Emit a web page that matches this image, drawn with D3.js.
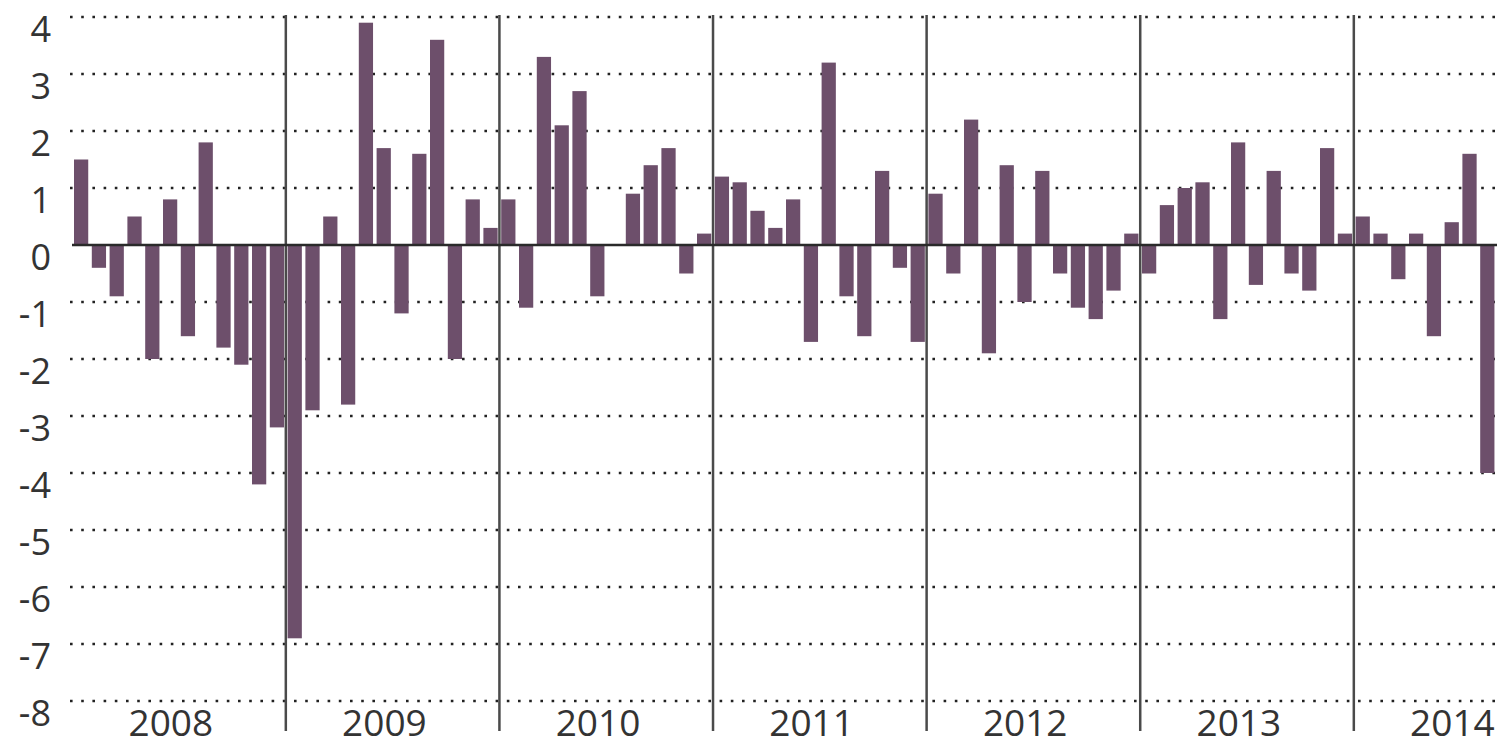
<!DOCTYPE html>
<html>
<head>
<meta charset="utf-8">
<script src="https://cdn.jsdelivr.net/npm/d3@7"></script>
<style>
  html, body { margin: 0; padding: 0; background: #fff; }
  svg { display: block; }
</style>
</head>
<body>
<svg id="chart" width="1503" height="747"></svg>
<script>
// ---- data ----
const years = ["2008", "2009", "2010", "2011", "2012", "2013", "2014"];
const values2008 = [1.5, -0.4, -0.9, 0.5, -2.0, 0.8, -1.6, 1.8, -1.8, -2.1, -4.2, -3.2];
const values2009 = [-6.9, -2.9, 0.5, -2.8, 3.9, 1.7, -1.2, 1.6, 3.6, -2.0, 0.8, 0.3];
const values2010 = [0.8, -1.1, 3.3, 2.1, 2.7, -0.9, 0.0, 0.9, 1.4, 1.7, -0.5, 0.2];
const values2011 = [1.2, 1.1, 0.6, 0.3, 0.8, -1.7, 3.2, -0.9, -1.6, 1.3, -0.4, -1.7];
const values2012 = [0.9, -0.5, 2.2, -1.9, 1.4, -1.0, 1.3, -0.5, -1.1, -1.3, -0.8, 0.2];
const values2013 = [-0.5, 0.7, 1.0, 1.1, -1.3, 1.8, -0.7, 1.3, -0.5, -0.8, 1.7, 0.2];
const values2014 = [0.5, 0.2, -0.6, 0.2, -1.6, 0.4, 1.6, -4.0];
const yTicks = [4, 3, 2, 1, 0, -1, -2, -3, -4, -5, -6, -7, -8];

const seriesByYear = [values2008, values2009, values2010, values2011, values2012, values2013, values2014];
const data = [];
seriesByYear.forEach((arr, yi) => arr.forEach((v, m) => data.push({ key: years[yi] + "-" + (m + 1), year: years[yi], month: m, value: v })));

// ---- layout ----
const svg = d3.select("#chart");
const x0 = 74, step = 17.8;
const x = d3.scaleBand()
  .domain(data.map(d => d.key))
  .range([x0, x0 + step * data.length])
  .paddingInner(0.2)
  .paddingOuter(0.1)
  .align(0);
const y = d3.scaleLinear().domain([-8, 4]).range([701, 17]);

const gridColor = "#222";
const barColor = "#6d4f6b";

// dotted gridlines
svg.append("g").selectAll("line")
  .data(yTicks.filter(t => t !== 0))
  .join("line")
  .attr("x1", 70).attr("x2", 1497)
  .attr("y1", d => y(d)).attr("y2", d => y(d))
  .attr("stroke", gridColor)
  .attr("stroke-width", 2.4)
  .attr("stroke-dasharray", "2.6,8.6");

// y labels
svg.append("g").selectAll("text")
  .data(yTicks)
  .join("text")
  .attr("x", 51)
  .attr("y", d => y(d) + 25)
  .attr("text-anchor", "end")
  .attr("font-family", "'Open Sans', sans-serif")
  .attr("font-size", 36)
  .attr("fill", "#333")
  .text(d => String(d));

// year separator lines
const yearStarts = years.slice(1).map(yr => x(yr + "-1") - x.step() * 0.1);
svg.append("g").selectAll("line")
  .data(yearStarts)
  .join("line")
  .attr("x1", d => d).attr("x2", d => d)
  .attr("y1", 15).attr("y2", 731)
  .attr("stroke", "#4a4a4a")
  .attr("stroke-width", 2.5);

// bars
svg.append("g").selectAll("rect")
  .data(data)
  .join("rect")
  .attr("x", d => x(d.key))
  .attr("width", x.bandwidth())
  .attr("y", d => y(Math.max(0, d.value)))
  .attr("height", d => Math.abs(y(d.value) - y(0)))
  .attr("fill", barColor);

// zero line
svg.append("line")
  .attr("x1", 72).attr("x2", 1497)
  .attr("y1", y(0)).attr("y2", y(0))
  .attr("stroke", "#2a2a2a")
  .attr("stroke-width", 2.5);

// year labels
svg.append("g").selectAll("text")
  .data(years)
  .join("text")
  .attr("x", d => x(d + "-1") + x.step() * 6 - 10)
  .attr("y", 736)
  .attr("text-anchor", "middle")
  .attr("font-family", "'Open Sans', sans-serif")
  .attr("font-size", 37)
  .attr("fill", "#333")
  .text(d => d);
</script>
</body>
</html>
